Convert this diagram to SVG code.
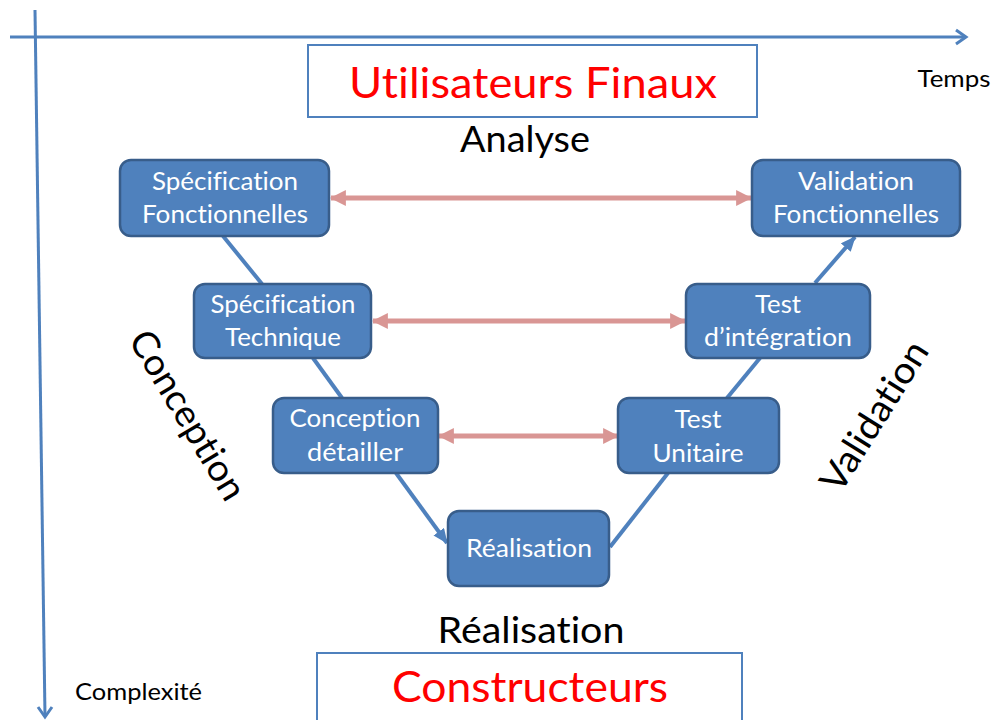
<svg xmlns="http://www.w3.org/2000/svg" width="992" height="720" viewBox="0 0 992 720">
<defs>
<style>
text{font-variant-ligatures:none}
.node rect{fill:#4F81BD;stroke:#385D8A;stroke-width:2.5}
.node text{fill:#fff;font-family:Lato,"Open Sans",sans-serif;font-size:25px;text-anchor:middle}
.lbl{font-family:Lato,"Open Sans",sans-serif;fill:#000}
.big{font-family:Lato,"Open Sans",sans-serif;fill:#FF0000;font-size:43px;text-anchor:middle}
.frame{fill:#fff;stroke:#4F81BD;stroke-width:2}
.axis{stroke:#4F81BD;stroke-width:3;fill:none}
.flow{stroke:#4F81BD;stroke-width:4;fill:none}
.link{stroke:#D99694;stroke-width:5;fill:none;marker-start:url(#pink);marker-end:url(#pink)}
</style>
<marker id="pink" markerUnits="userSpaceOnUse" markerWidth="16" markerHeight="16" viewBox="0 0 14 14" refX="13" refY="7" orient="auto-start-reverse">
<path d="M0,0 L14,7 L0,14 Z" fill="#D99694"/>
</marker>
<marker id="blue" markerUnits="userSpaceOnUse" markerWidth="15" markerHeight="13" viewBox="0 0 15 13" refX="14" refY="6.5" orient="auto">
<path d="M0,0 L15,6.5 L0,13 Z" fill="#4F81BD"/>
</marker>
</defs>

<g id="axes">
<line class="axis" x1="10" y1="37" x2="966" y2="37"/>
<polyline class="axis" points="956,30 966,37 956,44"/>
<line class="axis" x1="35" y1="10" x2="45" y2="716"/>
<polyline class="axis" points="38,707 45,717 52,707"/>
<text class="lbl" x="954" y="87" font-size="24" text-anchor="middle" textLength="73" lengthAdjust="spacingAndGlyphs">Temps</text>
<text class="lbl" x="75" y="700" font-size="24" textLength="127" lengthAdjust="spacingAndGlyphs">Complexité</text>
</g>

<g id="utilisateurs">
<rect class="frame" x="308" y="45" width="449" height="72"/>
<text class="big" x="533" y="98" textLength="368" lengthAdjust="spacingAndGlyphs">Utilisateurs Finaux</text>
</g>
<text id="analyse" class="lbl" x="525" y="152" font-size="37" text-anchor="middle" textLength="130" lengthAdjust="spacingAndGlyphs">Analyse</text>

<g id="constructeurs">
<rect class="frame" x="317" y="653" width="425" height="80"/>
<text class="big" x="530" y="702" textLength="276" lengthAdjust="spacingAndGlyphs">Constructeurs</text>
</g>
<text id="realisation-label" class="lbl" x="531" y="643" font-size="37" text-anchor="middle" textLength="187" lengthAdjust="spacingAndGlyphs">Réalisation</text>

<g id="conception-label" transform="translate(188,415) rotate(59)">
<text class="lbl" x="0" y="13" font-size="37" text-anchor="middle" textLength="191" lengthAdjust="spacingAndGlyphs">Conception</text>
</g>
<g id="validation-label" transform="translate(874,416) rotate(-58)">
<text class="lbl" x="0" y="13" font-size="37" text-anchor="middle" textLength="170" lengthAdjust="spacingAndGlyphs">Validation</text>
</g>

<g id="connectors">
<line class="flow" x1="223" y1="236" x2="262" y2="284"/>
<line class="flow" x1="313" y1="358" x2="342" y2="398"/>
<line class="flow" x1="396" y1="473" x2="447" y2="543" marker-end="url(#blue)"/>
<line class="flow" x1="610" y1="547" x2="668" y2="473"/>
<line class="flow" x1="727" y1="398" x2="760" y2="358"/>
<line class="flow" x1="815" y1="283" x2="855" y2="237" marker-end="url(#blue)"/>
<line class="link" x1="331" y1="198" x2="751" y2="198"/>
<line class="link" x1="373" y1="321" x2="685" y2="321"/>
<line class="link" x1="439" y1="436" x2="618" y2="436"/>
</g>

<g id="spec-fonct" class="node">
<rect x="120" y="160" width="209" height="76" rx="11"/>
<text x="225" y="190" textLength="146" lengthAdjust="spacingAndGlyphs">Spécification</text>
<text x="225" y="223" textLength="166" lengthAdjust="spacingAndGlyphs">Fonctionnelles</text>
</g>
<g id="valid-fonct" class="node">
<rect x="752" y="160" width="208" height="76" rx="11"/>
<text x="856" y="190" textLength="116" lengthAdjust="spacingAndGlyphs">Validation</text>
<text x="856" y="223" textLength="166" lengthAdjust="spacingAndGlyphs">Fonctionnelles</text>
</g>
<g id="spec-tech" class="node">
<rect x="194" y="284" width="177" height="74" rx="11"/>
<text x="283" y="313" textLength="145" lengthAdjust="spacingAndGlyphs">Spécification</text>
<text x="283" y="346" textLength="116" lengthAdjust="spacingAndGlyphs">Technique</text>
</g>
<g id="test-integ" class="node">
<rect x="686" y="284" width="184" height="74" rx="11"/>
<text x="778" y="313" textLength="46" lengthAdjust="spacingAndGlyphs">Test</text>
<text x="778" y="346" textLength="148" lengthAdjust="spacingAndGlyphs">d’intégration</text>
</g>
<g id="conception-det" class="node">
<rect x="273" y="398" width="165" height="75" rx="11"/>
<text x="355" y="427" textLength="131" lengthAdjust="spacingAndGlyphs">Conception</text>
<text x="355" y="461" textLength="96" lengthAdjust="spacingAndGlyphs">détailler</text>
</g>
<g id="test-unit" class="node">
<rect x="618" y="398" width="161" height="75" rx="11"/>
<text x="698" y="428" textLength="47" lengthAdjust="spacingAndGlyphs">Test</text>
<text x="698" y="462" textLength="91" lengthAdjust="spacingAndGlyphs">Unitaire</text>
</g>
<g id="realisation" class="node">
<rect x="448" y="511" width="161" height="75" rx="11"/>
<text x="529" y="557" textLength="126" lengthAdjust="spacingAndGlyphs">Réalisation</text>
</g>
</svg>
